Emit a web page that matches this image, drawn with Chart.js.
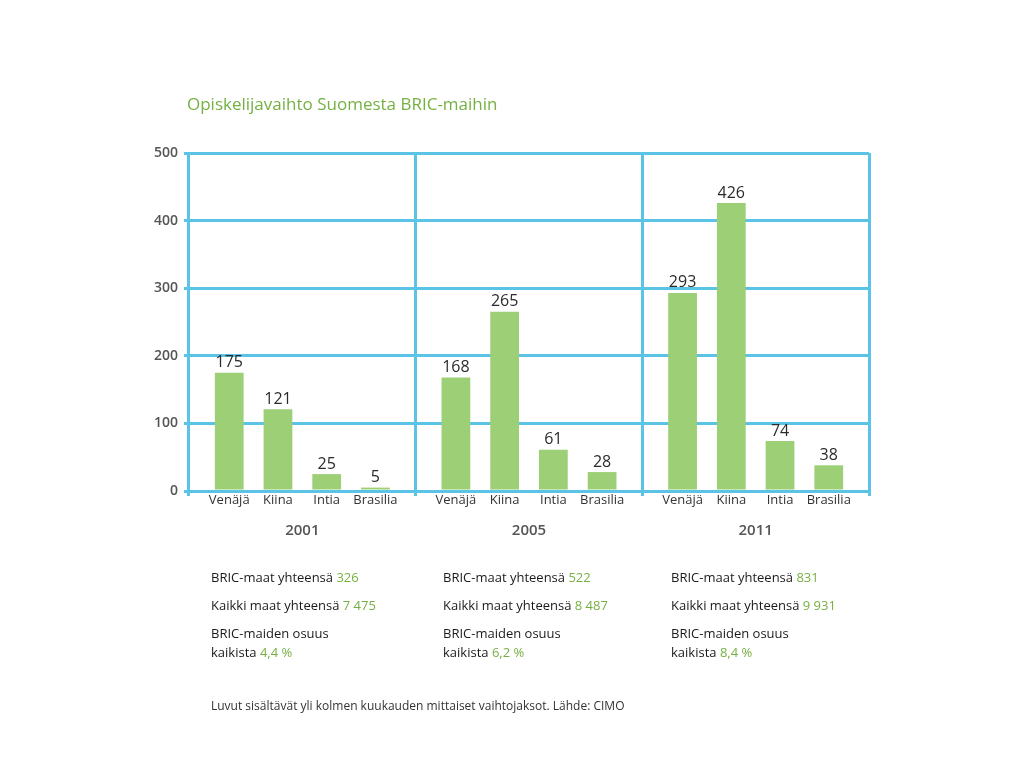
<!DOCTYPE html>
<html>
<head>
<meta charset="utf-8">
<script src="https://cdn.jsdelivr.net/npm/chart.js@4/dist/chart.umd.min.js"></script>
<style>
  html, body { margin:0; padding:0; background:#fff; }
  #wrap { position:relative; width:1024px; height:771px; font-family:"Open Sans", "Noto Sans", sans-serif; }
  canvas { position:absolute; left:0; top:0; }
  .title { position:absolute; left:187px; top:92px; font-size:17px; color:#76b043; white-space:nowrap; }
  .sum { position:absolute; font-size:13px; color:#1a1a1a; line-height:19px; white-space:nowrap; }
  .sum div { margin-bottom:9px; }
  .sum .g { color:#76b043; }
  .note { position:absolute; left:211px; top:697px; font-size:12px; color:#333; white-space:nowrap; }
</style>
</head>
<body>
<div id="wrap">
  <canvas id="c" width="1024" height="771"></canvas>
  <div class="title" id="title"></div>
  <div id="sums"></div>
  <div class="note" id="note"></div>
</div>
<script>
const title = "Opiskelijavaihto Suomesta BRIC-maihin";
const years = ["2001", "2005", "2011"];
const countries = ["Venäjä", "Kiina", "Intia", "Brasilia"];
const venaja = [175, 168, 293];
const kiina = [121, 265, 426];
const intia = [25, 61, 74];
const brasilia = [5, 28, 38];
const yTicks = [0, 100, 200, 300, 400, 500];
const bricTotal = ["326", "522", "831"];
const allTotal = ["7 475", "8 487", "9 931"];
const bricShare = ["4,4 %", "6,2 %", "8,4 %"];
const note = "Luvut sisältävät yli kolmen kuukauden mittaiset vaihtojaksot. Lähde: CIMO";

document.getElementById('title').textContent = title;
document.getElementById('note').textContent = note;
const sumLefts = [211, 443, 671];
const sumsEl = document.getElementById('sums');
years.forEach((y, i) => {
  const d = document.createElement('div');
  d.className = 'sum';
  d.style.left = sumLefts[i] + 'px';
  d.style.top = '568px';
  d.innerHTML = '<div>BRIC-maat yhteensä <span class="g">' + bricTotal[i] + '</span></div>' +
    '<div>Kaikki maat yhteensä <span class="g">' + allTotal[i] + '</span></div>' +
    '<div style="margin-bottom:0">BRIC-maiden osuus<br>kaikista <span class="g">' + bricShare[i] + '</span></div>';
  sumsEl.appendChild(d);
});

const series = [venaja, kiina, intia, brasilia];
const green = '#9dcf76';
const blue = '#5bc3e6';

const labelPlugin = {
  id: 'barLabels',
  afterDatasetsDraw(chart) {
    const ctx = chart.ctx;
    ctx.save();
    const base = chart.scales.y.getPixelForValue(0);
    chart.data.datasets.forEach((ds, di) => {
      const meta = chart.getDatasetMeta(di);
      meta.data.forEach((bar, i) => {
        ctx.fillStyle = '#2b2b2b';
        ctx.font = '16px "Open Sans", "Noto Sans", sans-serif';
        ctx.textAlign = 'center';
        ctx.textBaseline = 'bottom';
        ctx.fillText(String(ds.data[i]), bar.x, bar.y - 2);
        ctx.font = '13px "Open Sans", "Noto Sans", sans-serif';
        ctx.fillStyle = '#333';
        ctx.textBaseline = 'middle';
        ctx.fillText(ds.label, bar.x, base + 9);
      });
    });
    ctx.restore();
  }
};

new Chart(document.getElementById('c'), {
  type: 'bar',
  data: {
    labels: years,
    datasets: countries.map((c, i) => ({
      label: c,
      data: series[i],
      backgroundColor: green,
      borderWidth: 0
    }))
  },
  options: {
    responsive: false,
    animation: false,
    layout: { padding: { left: 0, right: 155, top: 153, bottom: 0 } },
    plugins: { legend: { display: false }, tooltip: { enabled: false } },
    datasets: { bar: { categoryPercentage: 0.86, barPercentage: 0.59 } },
    scales: {
      x: {
        grid: { color: blue, lineWidth: 3, tickLength: 5, offset: true, drawTicks: true },
        border: { display: false },
        ticks: {
          padding: 26,
          color: '#555',
          font: { family: '"Open Sans", "Noto Sans", sans-serif', size: 15, weight: '600' }
        },
        afterFit(scale) { scale.height = 280; }
      },
      y: {
        min: 0, max: 500,
        afterBuildTicks(scale) { scale.ticks = yTicks.map(v => ({ value: v })); },
        grid: { color: blue, lineWidth: 3, tickLength: 5 },
        border: { display: false },
        ticks: {
          padding: 6,
          color: '#555',
          font: { family: '"Open Sans", "Noto Sans", sans-serif', size: 14, weight: '600' }
        },
        afterFit(scale) { scale.width = 189; }
      }
    }
  },
  plugins: [labelPlugin]
});
</script>
</body>
</html>
